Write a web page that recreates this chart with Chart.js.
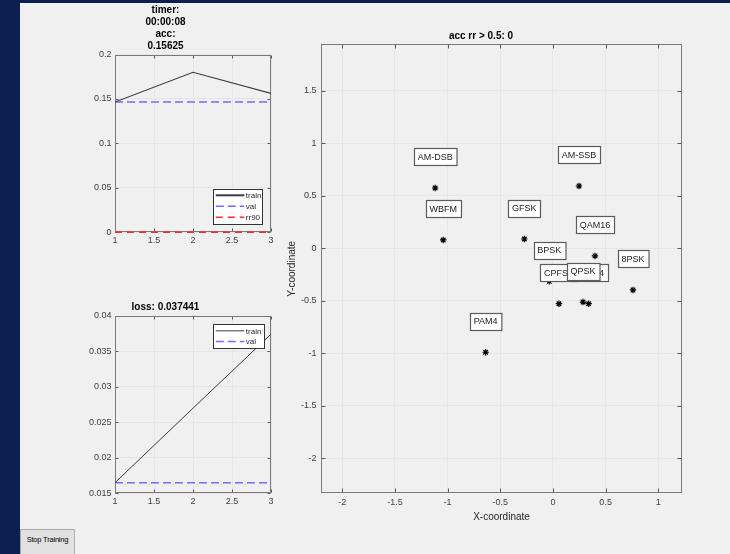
<!DOCTYPE html>
<html>
<head>
<meta charset="utf-8">
<script src="https://cdn.jsdelivr.net/npm/chart.js@4/dist/chart.umd.min.js"></script>
<style>
html,body{margin:0;padding:0;}
body{width:730px;height:554px;background:#0c2050;position:relative;overflow:hidden;font-family:"Liberation Sans",Arial,sans-serif;}
#panel{position:absolute;left:20px;top:3px;width:710px;height:551px;background:#f0f0f0;}
canvas{position:absolute;}
#btn{position:absolute;left:20px;top:529px;width:53px;height:24px;background:#e1e1e1;border:1px solid #adadad;font-size:7.5px;color:#000;text-align:center;line-height:20px;letter-spacing:-0.2px;}
</style>
</head>
<body>
<div id="panel"></div>
<canvas id="accChart" width="230" height="250" style="left:60px;top:3px;"></canvas>
<canvas id="lossChart" width="230" height="217" style="left:60px;top:297px;"></canvas>
<canvas id="mapChart" width="450" height="505" style="left:280px;top:25px;"></canvas>
<div id="btn">Stop Training</div>
<script>
// ---------- data ----------
const epochs = [1, 2, 3];
const epochTicks = [1, 1.5, 2, 2.5, 3];

const accTrain = [0.1465, 0.18, 0.15625];
const accVal = [0.1465, 0.1465, 0.1465];
const accRr90 = [0, 0, 0];
const accTicks = [0, 0.05, 0.1, 0.15, 0.2];
const timerText = '00:00:08';

const lossTrain = [0.0165, 0.027, 0.037441];
const lossVal = [0.0165, 0.0165, 0.0165];
const lossTicks = [0.015, 0.02, 0.025, 0.03, 0.035, 0.04];

const classNames = ['AM-DSB', 'WBFM', 'GFSK', 'AM-SSB', 'QAM16', '8PSK', 'BPSK', 'PAM4', 'CPFSK', 'QAM64', 'QPSK'];
const classX = [-1.118, -1.042, -0.272, 0.247, 0.399, 0.760, -0.035, -0.639, 0.057, 0.339, 0.285];
const classY = [0.574, 0.079, 0.088, 0.593, -0.073, -0.397, -0.315, -0.990, -0.528, -0.528, -0.512];
const mapTicksX = [-2, -1.5, -1, -0.5, 0, 0.5, 1];
const mapTicksY = [-2, -1.5, -1, -0.5, 0, 0.5, 1, 1.5];
const accRrValue = 0;

// ---------- helpers ----------
const FONT = '"Liberation Sans", Arial, Helvetica, sans-serif';
Chart.defaults.font.family = FONT;
Chart.defaults.animation = false;

function fixAxis(size, isX) {
  return function (s) {
    if (isX) s.height = size; else s.width = size;
    s.paddingLeft = 0; s.paddingRight = 0; s.paddingTop = 0; s.paddingBottom = 0;
  };
}
function setTicks(list) {
  return function (s) { s.ticks = list.map(v => ({ value: v })); };
}

const framePlugin = {
  id: 'frame',
  beforeDatasetsDraw(chart, args, opts) {
    const { ctx, chartArea: a, scales } = chart;
    const L = Math.round(a.left) + 0.5, R = Math.round(a.right) - 0.5;
    const T = Math.round(a.top) + 0.5, B = Math.round(a.bottom) - 0.5;
    ctx.save();
    ctx.strokeStyle = '#5a5a5a';
    ctx.lineWidth = 1;
    ctx.beginPath();
    const len = opts.len || 3;
    scales.x.ticks.forEach(t => {
      const p = Math.round(scales.x.getPixelForValue(t.value)) + 0.5;
      ctx.moveTo(p, B); ctx.lineTo(p, B - len);
      ctx.moveTo(p, T); ctx.lineTo(p, T + len);
    });
    scales.y.ticks.forEach(t => {
      const p = Math.round(scales.y.getPixelForValue(t.value)) + 0.5;
      ctx.moveTo(L, p); ctx.lineTo(L + len, p);
      ctx.moveTo(R, p); ctx.lineTo(R - len, p);
    });
    ctx.stroke();
    ctx.strokeStyle = '#7a7a7a';
    ctx.strokeRect(L, T, R - L, B - T);
    ctx.restore();
  }
};

const boxLegend = {
  id: 'boxLegend',
  afterDatasetsDraw(chart, args, o) {
    if (!o || !o.show) return;
    const { ctx, chartArea: a } = chart;
    const ds = chart.data.datasets;
    const h = o.rowH * ds.length + o.padY * 2;
    const x0 = a.right - o.right - o.width;
    const y0 = o.corner === 'bottom' ? a.bottom - o.bottom - h : a.top + o.top;
    ctx.save();
    ctx.fillStyle = '#ffffff';
    ctx.fillRect(x0, y0, o.width, h);
    ctx.strokeStyle = '#333333';
    ctx.lineWidth = 1;
    ctx.strokeRect(Math.round(x0) + 0.5, Math.round(y0) + 0.5, Math.round(o.width), Math.round(h));
    ctx.font = '8px ' + FONT;
    ctx.textBaseline = 'middle';
    ds.forEach((d, i) => {
      const cy = y0 + o.padY + o.rowH * (i + 0.5);
      ctx.strokeStyle = d.borderColor;
      ctx.lineWidth = d.legendWidth || d.borderWidth;
      ctx.setLineDash(d.borderDash || []);
      ctx.beginPath();
      ctx.moveTo(x0 + 2.5, cy);
      ctx.lineTo(x0 + 31, cy);
      ctx.stroke();
      ctx.setLineDash([]);
      ctx.fillStyle = '#262626';
      ctx.fillText(d.label, x0 + 32.5, cy + 0.5);
    });
    ctx.restore();
  }
};

const pointLabels = {
  id: 'pointLabels',
  afterDatasetsDraw(chart, args, o) {
    if (!o || !o.show) return;
    const { ctx, scales } = chart;
    ctx.save();
    ctx.font = '9px ' + FONT;
    ctx.textAlign = 'center';
    ctx.textBaseline = 'middle';
    classNames.forEach((name, i) => {
      const px = scales.x.getPixelForValue(classX[i]);
      const py = scales.y.getPixelForValue(classY[i]) - o.lift;
      const w = ctx.measureText(name).width + 7.5;
      const h = 17;
      const bx = Math.round(px - w / 2) + 0.5, by = Math.round(py - h / 2) + 0.5;
      ctx.fillStyle = '#ffffff';
      ctx.fillRect(bx, by, w, h);
      ctx.strokeStyle = '#5c5c5c';
      ctx.lineWidth = 1.2;
      ctx.strokeRect(bx, by, w, h);
      ctx.fillStyle = '#1a1a1a';
      ctx.fillText(name, px, py + 0.5);
    });
    ctx.restore();
  }
};

const tickFont = { size: 9, family: FONT };
const tickColor = '#404040';
const gridColor = '#e6e6e6';

function lineScales(xTicks, yTicks, ymin, ymax) {
  return {
    x: {
      type: 'linear', min: 1, max: 3,
      afterBuildTicks: setTicks(xTicks),
      afterFit: fixAxis(20.7, true),
      ticks: { font: tickFont, color: tickColor, padding: 3, maxRotation: 0, callback: v => String(v) },
      grid: { color: gridColor, drawTicks: false },
      border: { display: false }
    },
    y: {
      type: 'linear', min: ymin, max: ymax,
      afterBuildTicks: setTicks(yTicks),
      afterFit: fixAxis(55, false),
      ticks: { font: tickFont, color: tickColor, padding: 3.5, callback: v => String(v) },
      grid: { color: gridColor, drawTicks: false },
      border: { display: false }
    }
  };
}

// ---------- accuracy chart ----------
new Chart(document.getElementById('accChart'), {
  type: 'line',
  data: {
    datasets: [
      { label: 'train', data: epochs.map((e, i) => ({ x: e, y: accTrain[i] })), borderColor: '#3c3c3c', borderWidth: 1.1, legendWidth: 2, pointRadius: 0, tension: 0 },
      { label: 'val', data: epochs.map((e, i) => ({ x: e, y: accVal[i] })), borderColor: '#6e6eff', borderWidth: 1.5, borderDash: [8, 4], pointRadius: 0 },
      { label: 'rr90', data: epochs.map((e, i) => ({ x: e, y: accRr90[i] })), borderColor: '#ff2a2a', borderWidth: 1.5, borderDash: [7, 5], pointRadius: 0, clip: false }
    ]
  },
  options: {
    responsive: false,
    layout: { padding: { left: 0, right: 19, top: 0, bottom: 0 } },
    scales: lineScales(epochTicks, accTicks, 0, 0.2),
    plugins: {
      legend: { display: false },
      tooltip: { enabled: false },
      title: {
        display: true,
        text: ['timer:', timerText, 'acc:', String(accTrain[accTrain.length - 1])],
        color: '#000',
        font: { size: 10, weight: 'bold', lineHeight: 1.2, family: FONT },
        padding: { top: 1, bottom: 2.5 }
      },
      frame: { len: 3 },
      boxLegend: { show: true, corner: 'bottom', right: 8.7, bottom: 8.3, width: 49, rowH: 11, padY: 1.2 }
    }
  },
  plugins: [framePlugin, boxLegend]
});

// ---------- loss chart ----------
new Chart(document.getElementById('lossChart'), {
  type: 'line',
  data: {
    datasets: [
      { label: 'train', data: epochs.map((e, i) => ({ x: e, y: lossTrain[i] })), borderColor: '#3c3c3c', borderWidth: 1, pointRadius: 0, tension: 0 },
      { label: 'val', data: epochs.map((e, i) => ({ x: e, y: lossVal[i] })), borderColor: '#6e6eff', borderWidth: 1.5, borderDash: [8, 4], pointRadius: 0 }
    ]
  },
  options: {
    responsive: false,
    layout: { padding: { left: 0, right: 19, top: 0, bottom: 0 } },
    scales: lineScales(epochTicks, lossTicks, 0.015, 0.04),
    plugins: {
      legend: { display: false },
      tooltip: { enabled: false },
      title: {
        display: true,
        text: 'loss: ' + String(lossTrain[lossTrain.length - 1]),
        color: '#000',
        font: { size: 10, weight: 'bold', lineHeight: 1.2, family: FONT },
        padding: { top: 4.3, bottom: 2.7 }
      },
      frame: { len: 3 },
      boxLegend: { show: true, corner: 'top', right: 7, top: 8.3, width: 50.7, rowH: 10.7, padY: 1.2 }
    }
  },
  plugins: [framePlugin, boxLegend]
});

// ---------- class map scatter ----------
new Chart(document.getElementById('mapChart'), {
  type: 'scatter',
  data: {
    datasets: [{
      label: 'classes',
      data: classNames.map((n, i) => ({ x: classX[i], y: classY[i] })),
      pointStyle: 'star', pointRadius: 3.2, borderColor: '#000', backgroundColor: '#000', borderWidth: 1.2
    }]
  },
  options: {
    responsive: false,
    layout: { padding: { left: 0, right: 48, top: 0, bottom: 0 } },
    scales: {
      x: {
        type: 'linear', min: -2.202, max: 1.225,
        afterBuildTicks: setTicks(mapTicksX),
        afterFit: fixAxis(36.7, true),
        ticks: { font: tickFont, color: tickColor, padding: 4, maxRotation: 0, callback: v => String(v) },
        grid: { color: gridColor, drawTicks: false },
        border: { display: false },
        title: { display: true, text: 'X-coordinate', color: '#262626', font: { size: 10, family: FONT, lineHeight: 1.2 }, padding: { top: 0, bottom: 7 } }
      },
      y: {
        type: 'linear', min: -2.333, max: 1.942,
        afterBuildTicks: setTicks(mapTicksY),
        afterFit: fixAxis(41, false),
        ticks: { font: tickFont, color: tickColor, padding: 4.5, callback: v => String(v) },
        grid: { color: gridColor, drawTicks: false },
        border: { display: false },
        title: { display: true, text: 'Y-coordinate', color: '#262626', font: { size: 10, family: FONT, lineHeight: 1.2 }, padding: { top: 6.3, bottom: 0 } }
      }
    },
    plugins: {
      legend: { display: false },
      tooltip: { enabled: false },
      title: {
        display: true,
        text: 'acc rr > 0.5: ' + String(accRrValue),
        color: '#000',
        font: { size: 10, weight: 'bold', lineHeight: 1.2, family: FONT },
        padding: { top: 5.7, bottom: 1.6 }
      },
      frame: { len: 4 },
      pointLabels: { show: true, lift: 31 }
    }
  },
  plugins: [framePlugin, pointLabels]
});
</script>
</body>
</html>
